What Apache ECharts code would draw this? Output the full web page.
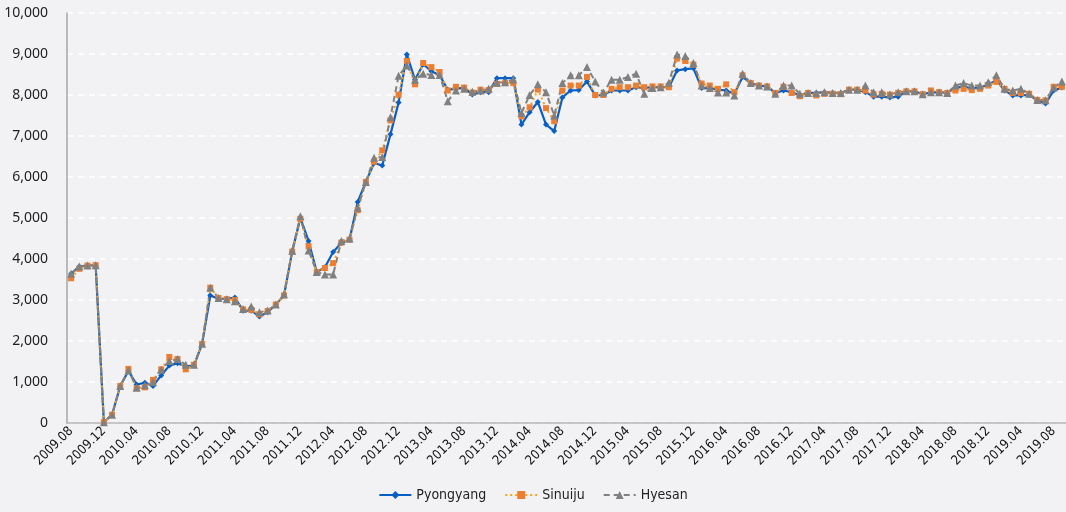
<!DOCTYPE html>
<html>
<head>
<meta charset="utf-8">
<title>Pyongyang / Sinuiju / Hyesan</title>
<script src="https://cdn.jsdelivr.net/npm/echarts@6/dist/echarts.min.js"></script>
<style>
  html, body { margin: 0; padding: 0; background: #f2f2f4; }
  #main { width: 1066px; height: 512px; }
</style>
</head>
<body>
<div id="main"></div>
<script>
// months 2009.08 .. 2019.09
var months = [];
for (var y = 2009, m = 8; y < 2019 || (y === 2019 && m <= 9); m++) {
  if (m > 12) { m = 1; y++; }
  months.push(y + '.' + (m < 10 ? '0' + m : m));
}

var pyongyang = [
  3640, 3820, 3840, 3850, 20, 200, 900, 1270, 940, 980,
  900, 1160, 1400, 1460, 1380, 1400, 1930, 3110, 3030, 3030,
  3060, 2740, 2740, 2600, 2700, 2890, 3110, 4180, 5000, 4440,
  3680, 3800, 4170, 4390, 4470, 5390, 5880, 6340, 6280, 7040,
  7820, 8990, 8370, 8750, 8580, 8480, 8130, 8150, 8180, 8010,
  8070, 8070, 8410, 8410, 8410, 7280, 7580, 7830, 7280, 7120,
  7940, 8110, 8120, 8330, 7990, 8000, 8110, 8110, 8110, 8190,
  8170, 8190, 8190, 8190, 8600, 8630, 8650, 8170, 8170, 8130,
  8110, 8030, 8440, 8290, 8230, 8210, 8050, 8110, 8070, 7990,
  8050, 8050, 8070, 8050, 8050, 8130, 8130, 8070, 7960, 7960,
  7940, 7960, 8090, 8090, 8020, 8060, 8070, 8050, 8180, 8200,
  8170, 8180, 8250, 8360, 8110, 7990, 7990, 8000, 7870, 7790,
  8110, 8180
];

var sinuiju = [
  3530, 3760, 3840, 3850, 20, 200, 900, 1320, 850, 870,
  1050, 1310, 1610, 1560, 1310, 1420, 1930, 3300, 3050, 3020,
  3000, 2770, 2760, 2650, 2730, 2890, 3110, 4180, 4980, 4310,
  3680, 3780, 3900, 4400, 4470, 5190, 5880, 6370, 6650, 7380,
  8010, 8830, 8260, 8780, 8680, 8560, 8110, 8200, 8180, 8060,
  8130, 8120, 8270, 8290, 8290, 7480, 7700, 8130, 7680, 7360,
  8110, 8230, 8230, 8440, 8000, 8000, 8150, 8190, 8190, 8230,
  8190, 8210, 8210, 8190, 8890, 8830, 8740, 8280, 8230, 8150,
  8260, 8070, 8480, 8290, 8230, 8210, 8050, 8200, 8050, 7970,
  8050, 7990, 8030, 8030, 8020, 8130, 8130, 8110, 8010, 8030,
  8010, 8050, 8090, 8090, 8020, 8110, 8070, 8050, 8110, 8150,
  8120, 8150, 8230, 8320, 8150, 8050, 8050, 8030, 7880, 7870,
  8200, 8200
];

var hyesan = [
  3640, 3820, 3840, 3850, 20, 200, 900, 1280, 860, 920,
  1000, 1300, 1510, 1560, 1420, 1420, 1930, 3300, 3050, 3020,
  2970, 2780, 2840, 2700, 2745, 2890, 3140, 4200, 5040, 4210,
  3680, 3620, 3620, 4440, 4500, 5250, 5880, 6470, 6490, 7460,
  8470, 8720, 8370, 8520, 8490, 8490, 7850, 8110, 8150, 8080,
  8110, 8150, 8300, 8310, 8380, 7560, 8000, 8260, 8070, 7500,
  8290, 8480, 8480, 8680, 8330, 8060, 8370, 8370, 8440, 8520,
  8030, 8170, 8190, 8300, 8990, 8950, 8780, 8230, 8170, 8060,
  8060, 7990, 8520, 8290, 8230, 8210, 8030, 8230, 8230, 8030,
  8050, 8050, 8070, 8050, 8050, 8130, 8130, 8230, 8070, 8070,
  8010, 8070, 8090, 8090, 8020, 8070, 8070, 8050, 8230, 8290,
  8230, 8230, 8310, 8480, 8150, 8110, 8150, 8030, 7880, 7870,
  8180, 8330
];

var narrow = "'DejaVu Sans Condensed', 'Liberation Sans', sans-serif";

var myChart = echarts.init(document.getElementById('main'));

var option = {
  backgroundColor: '#f2f2f4',
  animation: false,
  grid: { left: 67, top: 13, width: 1002, height: 410 },
  legend: {
    bottom: 5,
    left: 'center',
    itemWidth: 32,
    itemHeight: 10,
    itemGap: 18,
    textStyle: { fontFamily: narrow, fontSize: 14, color: '#222' },
    data: ['Pyongyang', 'Sinuiju', 'Hyesan']
  },
  xAxis: {
    type: 'category',
    data: months,
    boundaryGap: true,
    axisLine: { lineStyle: { color: '#b5b5b5', width: 1.5 } },
    axisTick: { show: false },
    axisLabel: {
      interval: 3,
      rotate: 45,
      margin: 6,
      color: '#111',
      fontSize: 13,
      fontFamily: narrow
    },
    splitLine: { show: false }
  },
  yAxis: {
    type: 'value',
    min: 0,
    max: 10000,
    interval: 1000,
    axisLine: { show: true, lineStyle: { color: '#a6a6a6', width: 1.5 } },
    axisTick: { show: false },
    axisLabel: {
      margin: 19,
      color: '#222',
      fontSize: 14,
      fontFamily: "'Noto Sans', 'Open Sans', sans-serif",
      formatter: function (v) { return v.toLocaleString('en-US'); }
    },
    splitLine: { lineStyle: { color: '#ffffff', type: [6, 5], width: 1.5 } }
  },
  series: [
    {
      name: 'Pyongyang',
      type: 'line',
      data: pyongyang,
      symbol: 'diamond',
      symbolSize: 6,
      showAllSymbol: true,
      lineStyle: { color: '#0a5fc4', width: 2.2 },
      itemStyle: { color: '#0a5fc4' }
    },
    {
      name: 'Sinuiju',
      type: 'line',
      data: sinuiju,
      symbol: 'rect',
      symbolSize: 6,
      showAllSymbol: true,
      lineStyle: { color: '#f9a21b', width: 2, type: [2, 3] },
      itemStyle: { color: '#ed7d31' }
    },
    {
      name: 'Hyesan',
      type: 'line',
      data: hyesan,
      symbol: 'triangle',
      symbolSize: 8,
      showAllSymbol: true,
      lineStyle: { color: '#808080', width: 2, type: [6, 4] },
      itemStyle: { color: '#808080' }
    }
  ]
};

myChart.setOption(option);
</script>
</body>
</html>
